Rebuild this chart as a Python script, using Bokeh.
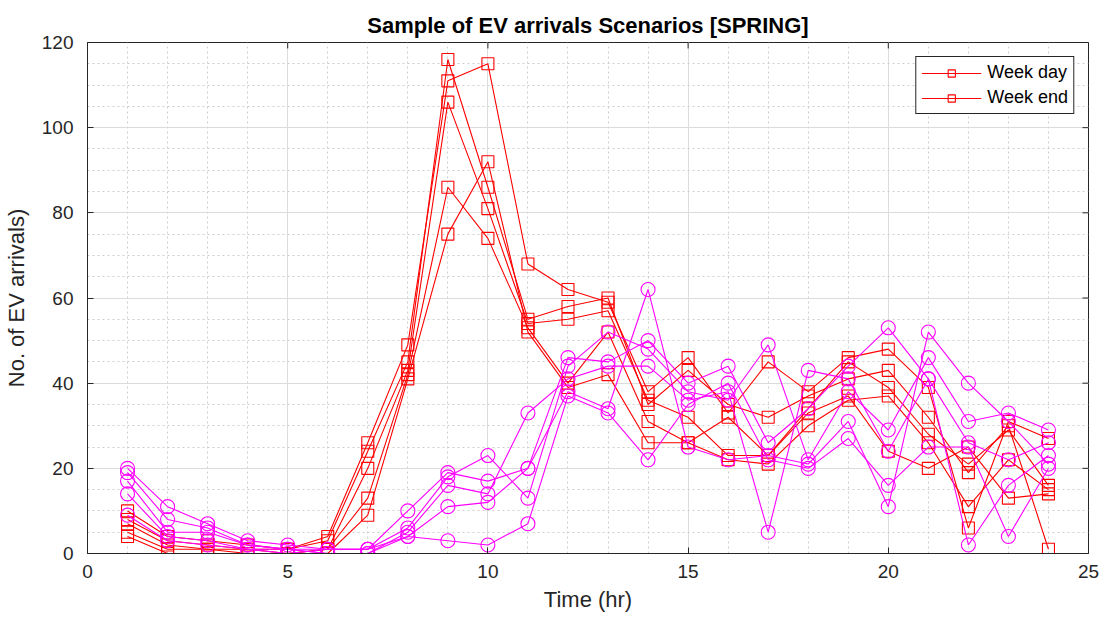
from bokeh.plotting import figure
from bokeh.models import Legend, LegendItem, Range1d, SingleIntervalTicker
from bokeh.embed import file_html
from bokeh.resources import INLINE

hours = list(range(1, 25))

weekday = [
    [10, 4, 3, 2, 1, 4, 26, 49, 111, 115, 68, 62, 59, 38, 46, 33, 45, 38, 46, 48, 39, 6, 31, 27],
    [8, 3, 2, 1, 1, 3, 24, 45, 116, 86, 55, 58, 60, 35, 43, 35, 32, 37, 41, 43, 32, 19, 30, 1],
    [7, 2, 1, 1, 0, 1, 20, 43, 106, 81, 54, 55, 57, 36, 32, 23, 23, 34, 45, 39, 28, 21, 29, 16],
    [5, 1, 1, 0, 0, 1, 13, 42, 86, 74, 53, 40, 52, 31, 26, 22, 21, 30, 36, 37, 26, 11, 22, 15],
    [4, 0, 0, 0, 0, 0, 9, 41, 75, 92, 52, 39, 42, 26, 26, 32, 23, 33, 37, 24, 20, 25, 13, 14],
]
weekend = [
    [20, 11, 7, 3, 2, 1, 1, 10, 19, 17, 20, 46, 45, 50, 40, 44, 26, 34, 44, 53, 41, 26, 22, 26],
    [19, 8, 6, 2, 1, 1, 1, 6, 18, 23, 13, 44, 52, 48, 38, 36, 49, 22, 38, 29, 46, 31, 33, 29],
    [17, 5, 5, 2, 1, 0, 0, 5, 16, 14, 33, 41, 44, 44, 36, 38, 5, 43, 41, 24, 41, 2, 16, 23],
    [14, 4, 3, 1, 0, 1, 1, 4, 11, 12, 20, 38, 34, 62, 25, 22, 23, 21, 31, 11, 52, 40, 31, 21],
    [9, 3, 2, 1, 1, 0, 0, 4, 3, 2, 7, 37, 33, 22, 35, 40, 22, 20, 27, 16, 25, 25, 4, 20],
]
legend_labels = ["Week day", "Week end"]
x_ticks = [0, 5, 10, 15, 20, 25]
y_ticks = [0, 20, 40, 60, 80, 100, 120]

FONT = "Liberation Sans"
AX = "#262626"
XMAX, YMAX = 25, 120

p = figure(width=1110, height=619, output_backend="svg", toolbar_location=None,
           x_range=Range1d(0, XMAX), y_range=Range1d(0, YMAX),
           min_border_left=86, min_border_right=22, min_border_top=42, min_border_bottom=66)

p.title.text = "Sample of EV arrivals Scenarios [SPRING]"
p.title.align = "center"
p.title.text_font = FONT
p.title.text_font_size = "22px"
p.title.text_font_style = "bold"
p.title.text_color = "#000000"
p.title.standoff = 10

p.outline_line_color = AX
p.outline_line_width = 1
p.outline_line_alpha = 1

p.xaxis.ticker = SingleIntervalTicker(interval=5, num_minor_ticks=5)
p.yaxis.ticker = SingleIntervalTicker(interval=20, num_minor_ticks=4)

for ax in [p.xaxis[0], p.yaxis[0]]:
    ax.axis_line_color = AX
    ax.major_tick_in = 6
    ax.major_tick_out = 0
    ax.minor_tick_in = 0
    ax.minor_tick_out = 0
    ax.major_tick_line_color = AX
    ax.major_label_text_font = FONT
    ax.major_label_text_font_size = "19px"
    ax.major_label_text_color = AX
    ax.axis_label_text_font = FONT
    ax.axis_label_text_font_size = "22px"
    ax.axis_label_text_font_style = "normal"
    ax.axis_label_text_color = AX

p.xaxis.axis_label = "Time (hr)"
p.yaxis.axis_label = "No. of EV arrivals)"
p.xaxis.major_label_standoff = 11
p.yaxis.major_label_standoff = 14
p.xaxis.axis_label_standoff = 6
p.yaxis.axis_label_standoff = 10

# mirrored tick marks on top and right edges (MATLAB box)
p.segment(x0=x_ticks, y0=[YMAX] * len(x_ticks), x1=x_ticks, y1=[YMAX - 1.4] * len(x_ticks),
          line_color=AX, line_width=1)
p.segment(x0=[XMAX] * len(y_ticks), y0=y_ticks, x1=[XMAX - 0.15] * len(y_ticks), y1=y_ticks,
          line_color=AX, line_width=1)

p.grid.grid_line_color = "#dcdcdc"
p.grid.grid_line_width = 1
p.grid.minor_grid_line_color = "#cfcfcf"
p.grid.minor_grid_line_dash = "2 3"
p.grid.minor_grid_line_width = 1

red_renderers = []
for s in weekday:
    p.line(hours, s, line_color="#ff0000", line_width=1.1)
    r = p.scatter(hours, s, marker="square", size=12, fill_color=None, line_color="#ff0000", line_width=1.1)
    red_renderers.append(r)
for s in weekend:
    p.line(hours, s, line_color="#ff00ff", line_width=1.1)
    p.scatter(hours, s, marker="circle", size=14, fill_color=None, line_color="#ff00ff", line_width=1.1)

# legend glyphs (reference shows both entries as red squares)
lr = []
for i in range(2):
    ln = p.line([hours[0]], [weekday[i][0]], line_color="#ff0000", line_width=1.1, visible=False)
    lr.append(ln)
items = [LegendItem(label=legend_labels[i], renderers=[lr[i], red_renderers[i]]) for i in range(2)]
legend = Legend(items=items, location="top_right", border_line_color="#262626", border_line_alpha=1,
                background_fill_color="white", background_fill_alpha=1,
                label_text_font=FONT, label_text_font_size="18px", label_text_color="#000000",
                glyph_width=60, glyph_height=18, spacing=4, padding=5, margin=14,
                label_standoff=6)
p.add_layout(legend)

open("out.html", "w").write(file_html(p, INLINE))
